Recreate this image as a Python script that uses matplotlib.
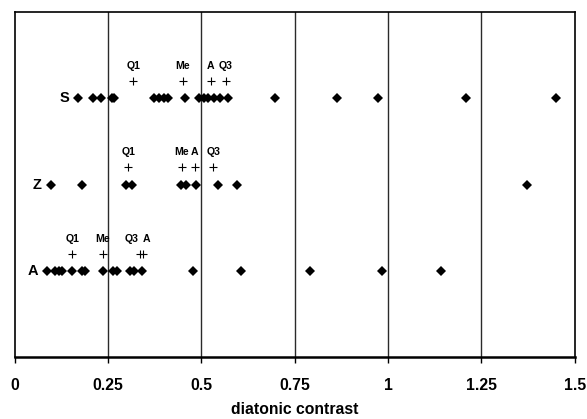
import matplotlib
matplotlib.use("Agg")
import matplotlib.pyplot as plt
import numpy as np

plt.rcParams['font.family'] = ['Liberation Sans', 'DejaVu Sans']

# ---- data ----
categories = ['S', 'Z', 'A']
s_values = [0.17, 0.21, 0.23, 0.26, 0.265, 0.372, 0.386, 0.40, 0.412, 0.455,
            0.494, 0.506, 0.518, 0.534, 0.551, 0.572, 0.697, 0.864, 0.974, 1.21, 1.449]
z_values = [0.096, 0.179, 0.299, 0.313, 0.445, 0.458, 0.487, 0.544, 0.596, 1.371]
a_values = [0.087, 0.108, 0.119, 0.126, 0.153, 0.179, 0.188, 0.237, 0.264, 0.273,
            0.309, 0.320, 0.340, 0.478, 0.606, 0.791, 0.983, 1.141]
stat_labels = ['Q1', 'Me', 'A', 'Q3']
s_stats = [0.318, 0.450, 0.525, 0.565]
z_stats = [0.304, 0.447, 0.483, 0.532]
a_stats = [0.154, 0.236, 0.344, 0.337]
x_ticks = [0, 0.25, 0.5, 0.75, 1, 1.25, 1.5]
x_tick_labels = ['0', '0.25', '0.5', '0.75', '1', '1.25', '1.5']
x_label = 'diatonic contrast'

series_values = [s_values, z_values, a_values]
series_stats = [s_stats, z_stats, a_stats]

fig = plt.figure(figsize=(5.87, 4.19), dpi=100)
ax = fig.add_axes([0.025, 0.1468, 0.954, 0.8246])
ax.set_xlim(0, 1.5)
ax.set_ylim(0, 4)

for xv in x_ticks[1:-1]:
    ax.axvline(xv, color='#2a2a2a', lw=1.0, zorder=1)

# label offsets (points) for overlapping stat labels in the A row
label_dx = {('A', 'Q3'): -6.5, ('A', 'A'): 2.5}

for i, (cat, vals, stats) in enumerate(zip(categories, series_values, series_stats)):
    yrow = len(categories) - i
    ax.plot(vals, [yrow] * len(vals), linestyle='none', marker='D',
            markersize=4.6, color='black', markeredgewidth=0, zorder=3)
    ax.annotate(cat, xy=(min(vals), yrow), xytext=(-6.5, 0), textcoords='offset points',
                ha='right', va='center', fontsize=10.5, fontweight='bold', zorder=4)
    ax.plot(stats, [yrow + 0.2] * len(stats), linestyle='none', marker='+',
            markersize=6, markeredgewidth=0.8, color='black', zorder=3)
    for lab, sv in zip(stat_labels, stats):
        dx = label_dx.get((cat, lab), 0)
        ax.annotate(lab, xy=(sv, yrow + 0.375), xytext=(dx, 0), textcoords='offset points',
                    ha='center', va='center', fontsize=7.6, fontweight='bold', zorder=2)

ax.set_yticks([])
ax.set_xticks(x_ticks)
ax.set_xticklabels(x_tick_labels, fontsize=11.3, fontweight='bold')
ax.tick_params(axis='x', direction='out', length=4.5, width=1.0, pad=10)
ax.set_xlabel(x_label, fontsize=11.3, fontweight='bold', labelpad=6.5)

for side in ['top', 'left', 'right']:
    ax.spines[side].set_linewidth(1.2)
    ax.spines[side].set_color('black')
ax.spines['bottom'].set_linewidth(1.8)

fig.savefig('out.png', dpi=100)
